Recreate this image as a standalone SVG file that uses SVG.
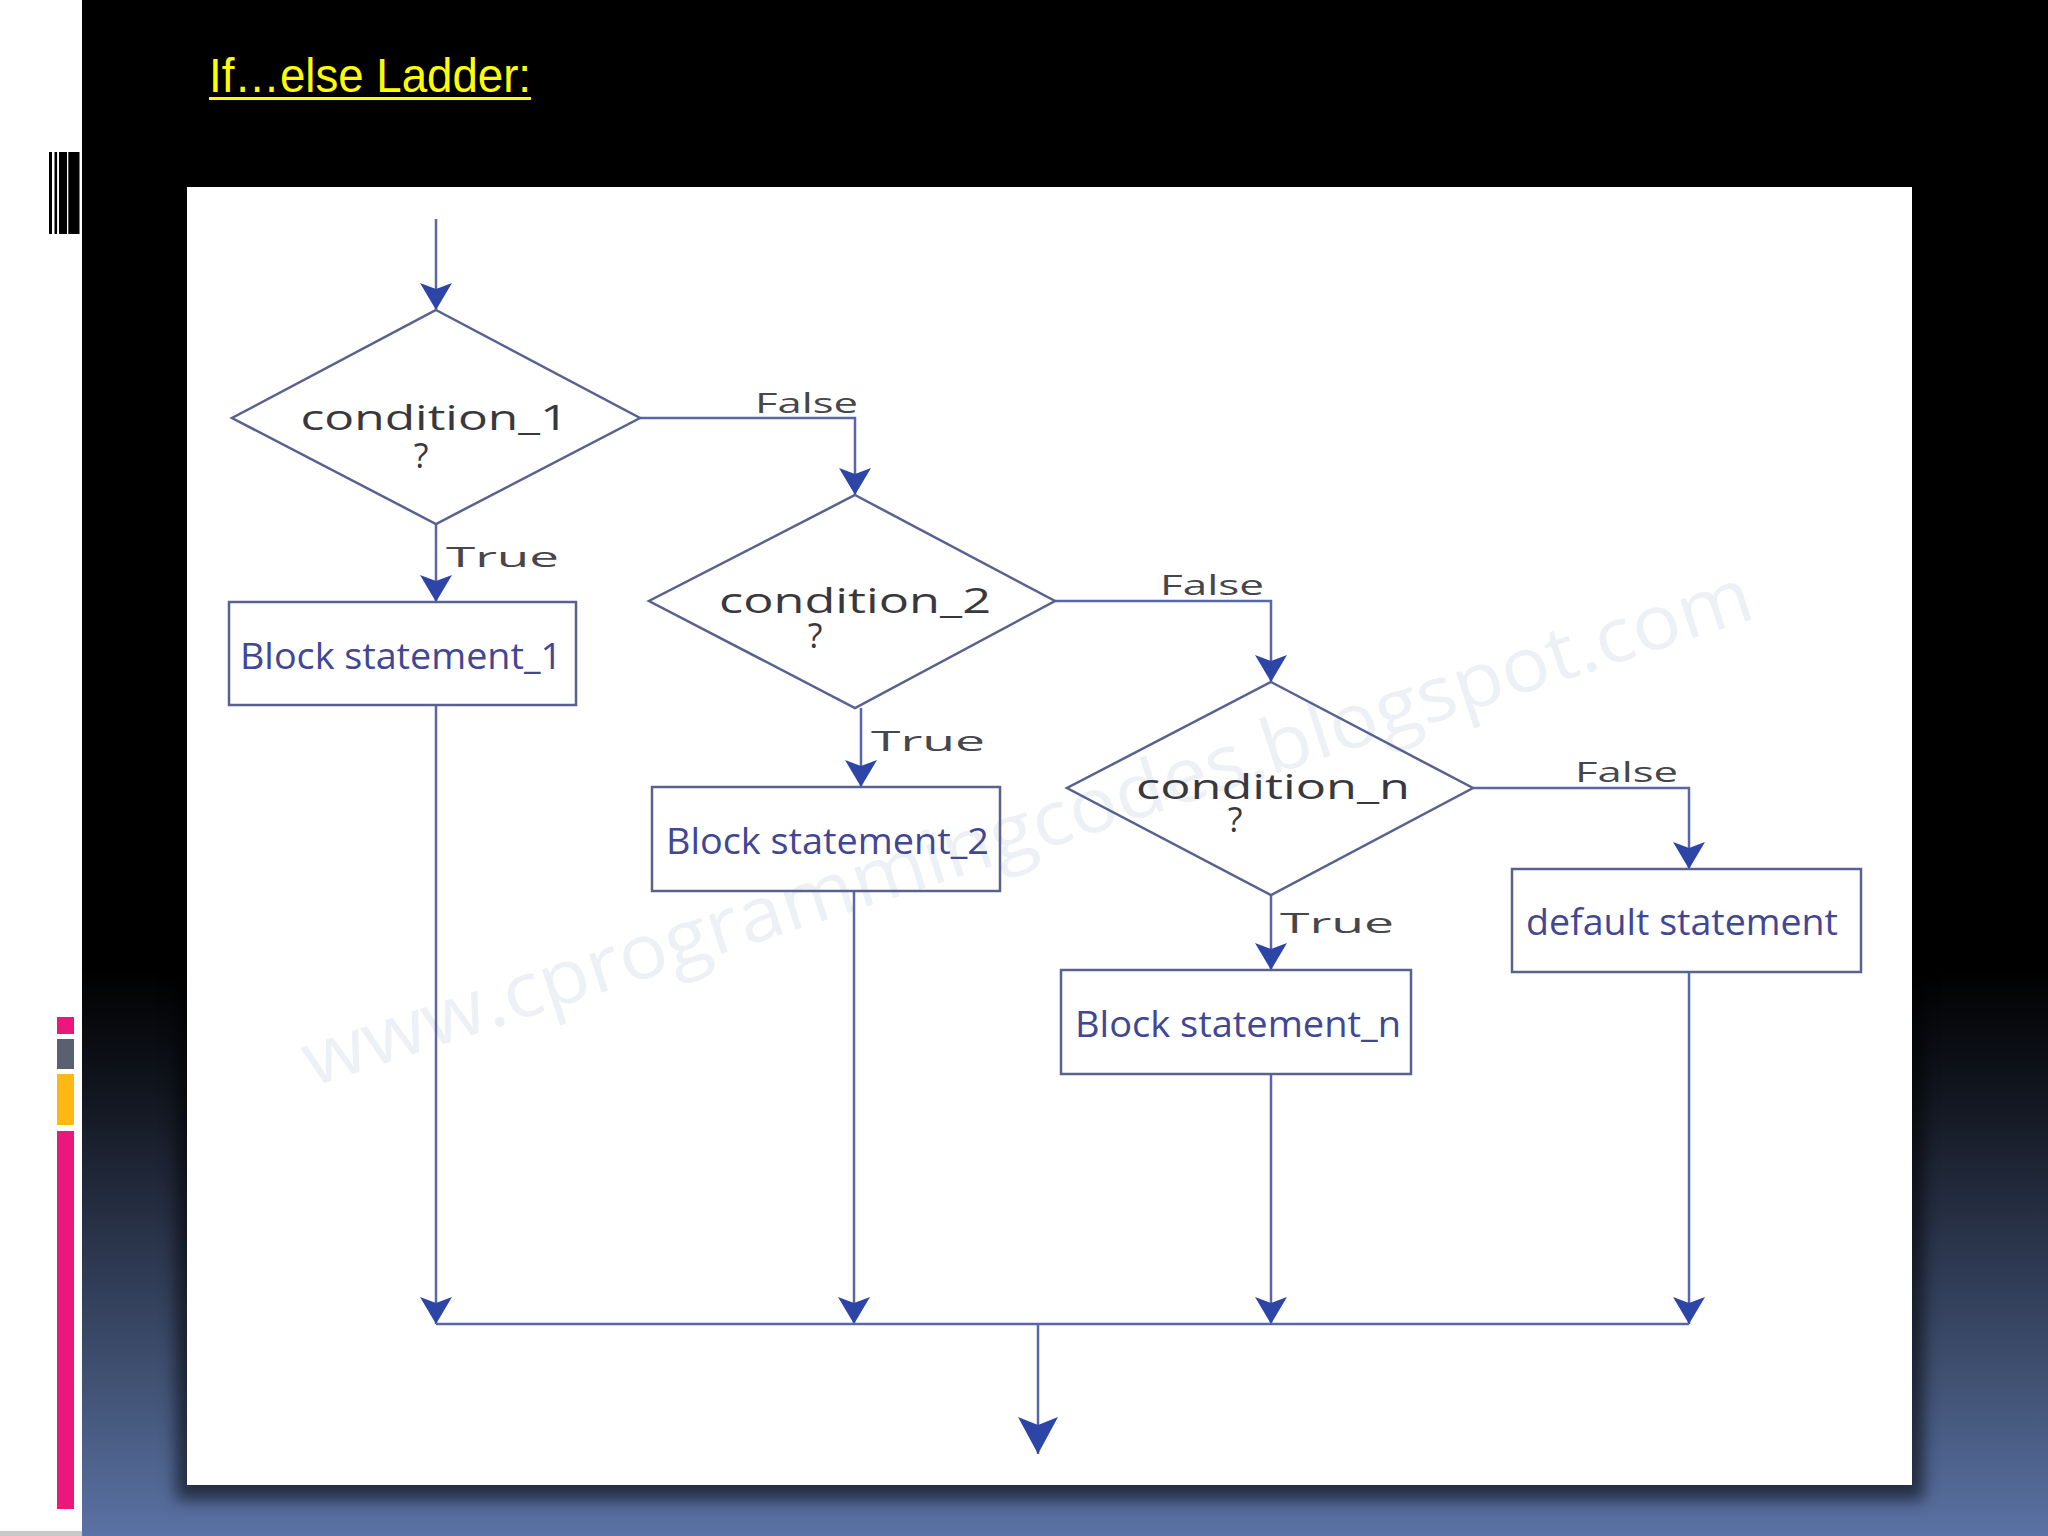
<svg xmlns="http://www.w3.org/2000/svg" width="2048" height="1536" viewBox="0 0 2048 1536">
<defs>
<style>
.ln{fill:none;stroke:#5966a8;stroke-width:2.5}
.shape{fill:none;stroke:#59618f;stroke-width:2.5}
.ct{font-family:"Open Sans","DejaVu Sans",sans-serif;font-size:34px;fill:#38383d;text-anchor:middle}
.bt{font-family:"Open Sans","DejaVu Sans",sans-serif;font-size:37px;fill:#3f4796;text-anchor:middle}
.lb{font-family:"Open Sans","DejaVu Sans",sans-serif;font-size:28px;fill:#46464b}
.wm{font-family:"Open Sans","DejaVu Sans",sans-serif;font-size:76px;fill:#edf0f5}
</style>
<linearGradient id="bg" x1="0" y1="0" x2="0" y2="1">
<stop offset="0" stop-color="#000000"/>
<stop offset="0.63" stop-color="#000000"/>
<stop offset="0.71" stop-color="#11151e"/>
<stop offset="0.82" stop-color="#2d3850"/>
<stop offset="0.91" stop-color="#435578"/>
<stop offset="1" stop-color="#5a72a4"/>
</linearGradient>
<filter id="sh" x="-5%" y="-5%" width="110%" height="110%">
<feGaussianBlur stdDeviation="8"/>
</filter>
<marker id="ah" viewBox="-30 -18 32 36" refX="0" refY="0" markerWidth="32" markerHeight="36" markerUnits="userSpaceOnUse" orient="auto">
<path d="M0,0 L-27,-16 L-21,0 L-27,16 Z" fill="#2d45a7"/>
</marker>
<marker id="ahBig" viewBox="-40 -22 42 44" refX="0" refY="0" markerWidth="42" markerHeight="44" markerUnits="userSpaceOnUse" orient="auto">
<path d="M0,0 L-37,-20 L-29,0 L-37,20 Z" fill="#2d45a7"/>
</marker>
</defs>

<!-- slide background -->
<rect x="0" y="0" width="2048" height="1536" fill="#ffffff"/>
<rect x="82" y="0" width="1966" height="1536" fill="url(#bg)"/>
<rect x="0" y="1531" width="82" height="5" fill="#c9c9c9"/>

<!-- barcode decoration -->
<g id="barcode" fill="#000000">
<rect x="49" y="152" width="3" height="82"/>
<rect x="54.5" y="152" width="2.6" height="82"/>
<rect x="59" y="152" width="8" height="82"/>
<rect x="68.3" y="152" width="11.2" height="82"/>
</g>

<!-- colour bars -->
<g id="colorbars">
<rect x="57" y="1017" width="17" height="17" fill="#ec177b"/>
<rect x="57" y="1039" width="17" height="30" fill="#5a6070"/>
<rect x="57" y="1074" width="17" height="51" fill="#fdb813"/>
<rect x="57" y="1131" width="17" height="378" fill="#ec177b"/>
</g>

<!-- title -->
<g id="title">
<text x="209" y="92" font-family="'Liberation Sans',Arial,sans-serif" font-size="48" fill="#ffff00" textLength="322" lengthAdjust="spacingAndGlyphs">If…else Ladder:</text>
<rect x="209" y="97" width="322" height="3" fill="#ffff00"/>
</g>

<!-- panel -->
<rect x="176" y="194" width="1748" height="1306" fill="#000000" opacity="0.55" filter="url(#sh)"/>
<rect id="panel" x="187" y="187" width="1725" height="1298" fill="#ffffff"/>

<!-- watermark -->
<text class="wm" x="312" y="1087" transform="rotate(-18 312 1087)" textLength="1520" lengthAdjust="spacingAndGlyphs">www.cprogrammingcodes.blogspot.com</text>

<!-- connectors -->
<g id="connectors">
<line id="c-start" class="ln" x1="436" y1="219" x2="436" y2="310" marker-end="url(#ah)"/>
<polyline id="c-d1-false" class="ln" points="640,418 855,418 855,495" marker-end="url(#ah)"/>
<line id="c-d1-true" class="ln" x1="436" y1="524" x2="436" y2="602" marker-end="url(#ah)"/>
<polyline id="c-d2-false" class="ln" points="1055,601 1271,601 1271,682" marker-end="url(#ah)"/>
<line id="c-d2-true" class="ln" x1="861" y1="708" x2="861" y2="787" marker-end="url(#ah)"/>
<polyline id="c-dn-false" class="ln" points="1473,788 1689,788 1689,869" marker-end="url(#ah)"/>
<line id="c-dn-true" class="ln" x1="1271" y1="895" x2="1271" y2="970" marker-end="url(#ah)"/>
<line id="c-b1-out" class="ln" x1="436" y1="705" x2="436" y2="1324" marker-end="url(#ah)"/>
<line id="c-b2-out" class="ln" x1="854" y1="891" x2="854" y2="1324" marker-end="url(#ah)"/>
<line id="c-bn-out" class="ln" x1="1271" y1="1074" x2="1271" y2="1324" marker-end="url(#ah)"/>
<line id="c-def-out" class="ln" x1="1689" y1="972" x2="1689" y2="1324" marker-end="url(#ah)"/>
<line id="c-merge" class="ln" x1="436" y1="1324" x2="1689" y2="1324"/>
<line id="c-exit" class="ln" x1="1038" y1="1324" x2="1038" y2="1454" marker-end="url(#ahBig)"/>
<text class="lb" x="755" y="413" textLength="103" lengthAdjust="spacingAndGlyphs">False</text>
<text class="lb" x="446" y="567" textLength="113" lengthAdjust="spacingAndGlyphs">True</text>
<text class="lb" x="1160" y="595" textLength="104" lengthAdjust="spacingAndGlyphs">False</text>
<text class="lb" x="871" y="751" textLength="114" lengthAdjust="spacingAndGlyphs">True</text>
<text class="lb" x="1575" y="782" textLength="103" lengthAdjust="spacingAndGlyphs">False</text>
<text class="lb" x="1280" y="933" textLength="114" lengthAdjust="spacingAndGlyphs">True</text>
</g>

<!-- nodes -->
<g id="cond1">
<polygon class="shape" points="436,310 640,418 436,524 232,418"/>
<text class="ct" x="434.5" y="430" textLength="268" lengthAdjust="spacingAndGlyphs">condition_1</text>
<text class="ct" x="421" y="468">?</text>
</g>
<g id="block1">
<rect class="shape" x="229" y="602" width="347" height="103"/>
<text class="bt" x="401" y="669" textLength="322" lengthAdjust="spacingAndGlyphs">Block statement_1</text>
</g>
<g id="cond2">
<polygon class="shape" points="855,495 1055,601 855,708 649,601"/>
<text class="ct" x="855" y="613" textLength="272" lengthAdjust="spacingAndGlyphs">condition_2</text>
<text class="ct" x="815" y="648">?</text>
</g>
<g id="block2">
<rect class="shape" x="652" y="787" width="348" height="104"/>
<text class="bt" x="827.5" y="854" textLength="323" lengthAdjust="spacingAndGlyphs">Block statement_2</text>
</g>
<g id="condn">
<polygon class="shape" points="1271,682 1473,788 1271,895 1067,788"/>
<text class="ct" x="1273" y="799" textLength="274" lengthAdjust="spacingAndGlyphs">condition_n</text>
<text class="ct" x="1235" y="832">?</text>
</g>
<g id="blockn">
<rect class="shape" x="1061" y="970" width="350" height="104"/>
<text class="bt" x="1238" y="1037" textLength="326" lengthAdjust="spacingAndGlyphs">Block statement_n</text>
</g>
<g id="default">
<rect class="shape" x="1512" y="869" width="349" height="103"/>
<text class="bt" x="1682" y="935" textLength="312" lengthAdjust="spacingAndGlyphs">default statement</text>
</g>
</svg>
